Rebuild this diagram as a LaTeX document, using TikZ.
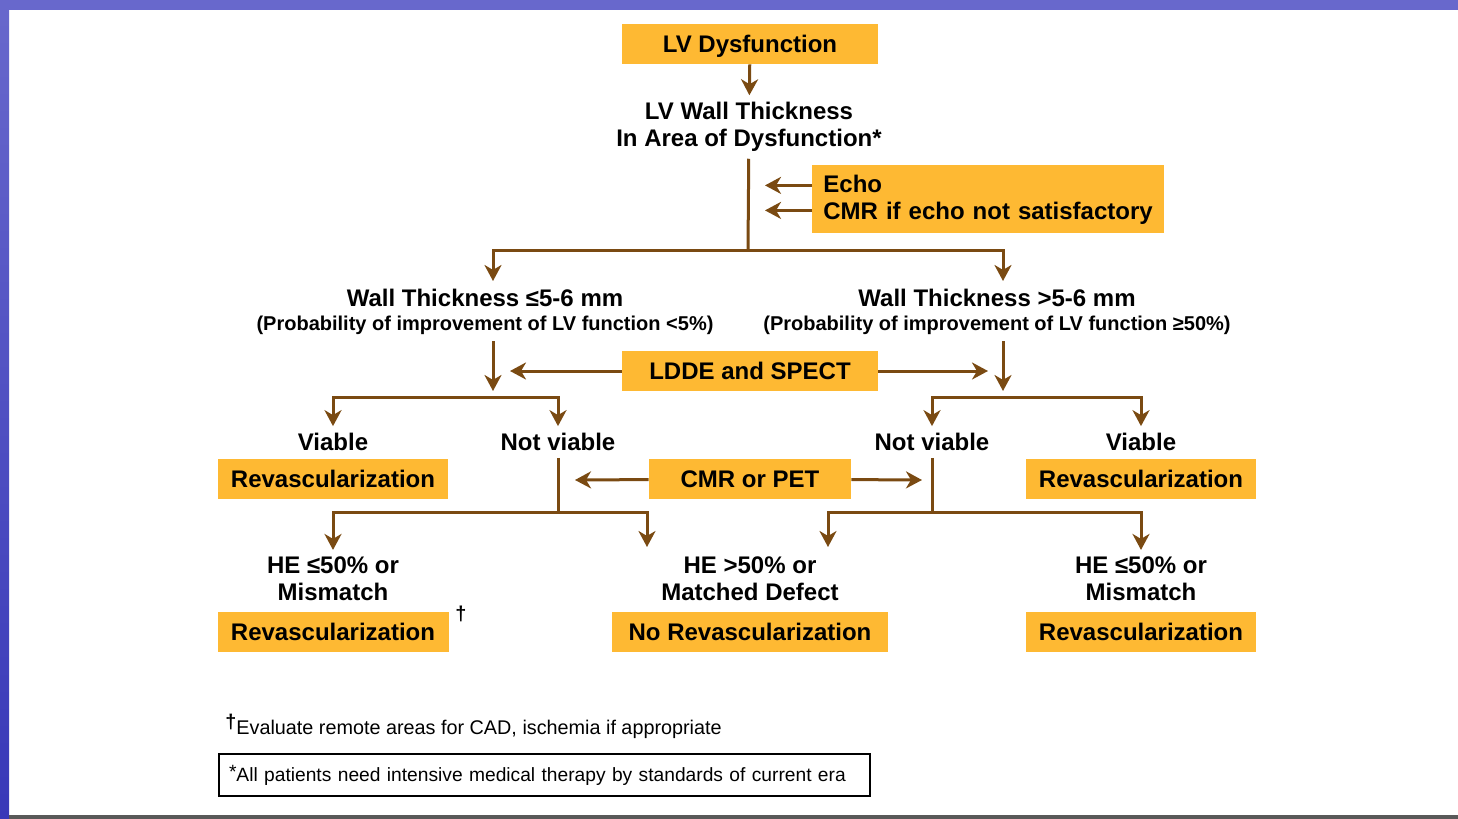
\documentclass[tikz,border=0pt]{standalone}
\usepackage{fontspec}
\setmainfont{Liberation Sans}
\usetikzlibrary{arrows.meta,positioning}
\definecolor{boxorange}{RGB}{254,185,51}
\definecolor{arrowbrown}{RGB}{122,74,18}
\definecolor{slideblue}{RGB}{104,104,204}
\definecolor{slidedark}{RGB}{56,56,184}

\begin{document}
\begin{tikzpicture}[x=0.5pt,y=-0.5pt,
    box/.style={fill=boxorange, font=\fontsize{12}{13.5}\selectfont\bfseries, minimum height=20pt, inner sep=0pt, text height=8.8pt, text depth=0pt},
    txt/.style={font=\fontsize{12}{13.5}\selectfont\bfseries, align=center},
    probtxt/.style={font=\fontsize{10}{11}\selectfont\bfseries},
    notetxt/.style={font=\fontsize{9.9}{11}\selectfont},
    link/.style={draw=arrowbrown, line width=1.5pt},
    arr/.style={link, -{Stealth[length=8pt,width=8.5pt,inset=2.5pt]}}]
    \useasboundingbox (0,0) rectangle (1458,819);
    % slide frame
    \fill[white] (0,0) rectangle (1458,819);
    \shade[top color=slideblue, bottom color=slidedark] (0,0) rectangle (9,819);
    \fill[slideblue] (0,0) rectangle (1458,10);
    \fill[black!65] (9,815) rectangle (1458,819);

    % nodes
    \node[box, minimum width=128pt] at (750,44) (dys) {LV Dysfunction};
    \node[txt] at (749,127) (wall) {LV Wall Thickness\\In Area of Dysfunction*};
    \node[box, anchor=north west, text width=165pt, inner xsep=5.5pt, minimum height=34pt, align=left, text height=, text depth=] at (812,165) (echo) {Echo\\CMR if echo not satisfactory};
    \node[txt] at (485,298) (thinL) {Wall Thickness ≤5-6 mm};
    \node[probtxt] at (485,325) (probL) {(Probability of improvement of LV function <5\%)};
    \node[txt] at (997,298) (thinR) {Wall Thickness >5-6 mm};
    \node[probtxt] at (997,325) (probR) {(Probability of improvement of LV function ≥50\%)};
    \node[box, minimum width=128pt] at (750,371) (ldde) {LDDE and SPECT};
    \node[txt] at (333,442) (viaL) {Viable};
    \node[txt] at (558,442) (nvL) {Not viable};
    \node[txt] at (932,442) (nvR) {Not viable};
    \node[txt] at (1141,442) (viaR) {Viable};
    \node[box, minimum width=115pt] at (333,479) (revL) {Revascularization};
    \node[box, minimum width=101pt] at (750,479) (cmr) {CMR or PET};
    \node[box, minimum width=115pt] at (1141,479) (revR) {Revascularization};
    \node[txt] at (333,579) (heL) {HE ≤50\% or\\Mismatch};
    \node[txt] at (750,579) (heM) {HE >50\% or\\Matched Defect};
    \node[txt] at (1141,579) (heR) {HE ≤50\% or\\Mismatch};
    \node[box, minimum width=115.5pt] at (333,631.5) (revLL) {Revascularization};
    \node[box, minimum width=138pt] at (750,631.5) (norev) {No Revascularization};
    \node[box, minimum width=115pt] at (1141,631.5) (revRR) {Revascularization};
    \node[anchor=south west, inner sep=0pt, font=\fontsize{10}{11}\selectfont\bfseries] at (455,622) (dag) {†};
    \node[notetxt, anchor=base west, inner sep=0pt] at (225,734) (note1) {\raisebox{3pt}{\bfseries †}Evaluate remote areas for CAD, ischemia if appropriate};
    \node[notetxt, font=\fontsize{9.6}{11}\selectfont, draw=black, line width=1pt, anchor=west, minimum height=21pt, inner ysep=0pt, inner xsep=5pt, text width=315.5pt, align=left] at (218,775) (note2) {\mbox{\raisebox{1.5pt}{*}All patients need intensive medical therapy by standards of current era}};

    % connector points
    \coordinate (fork) at (748,250);
    \coordinate (tipL) at (493,281);
    \coordinate (tipR) at (1003,281);
    \coordinate (jL) at (493,391);
    \coordinate (jR) at (1003,391);
    \coordinate (inL) at (510,371);
    \coordinate (inR) at (988,371);
    \coordinate (brL) at (493,397);
    \coordinate (brR) at (1003,397);
    \coordinate (inLL) at (575,480);
    \coordinate (inRR) at (922,480);
    \coordinate (fkL) at (558,512);
    \coordinate (fkR) at (932,512);
    \coordinate (tipM) at (647,547);
    \coordinate (tipN) at (828,547);

    % connectors
    \draw[arr] (dys) -- (wall);
    \draw[link] (wall) -- (fork);
    \draw[arr] (fork) -| (tipL);
    \draw[arr] (fork) -| (tipR);
    \draw[arr] ([yshift=7pt]echo.west) -- ++(-47,0);
    \draw[arr] ([yshift=-5.5pt]echo.west) -- ++(-47,0);
    \draw[arr] (probL.south -| jL) -- (jL);
    \draw[arr] (probR.south -| jR) -- (jR);
    \draw[arr] (ldde) -- (inL);
    \draw[arr] (ldde) -- (inR);
    \draw[arr] (brL) -| (viaL);
    \draw[arr] (brL) -| (nvL);
    \draw[arr] (brR) -| (nvR);
    \draw[arr] (brR) -| (viaR);
    \draw[arr] (cmr) -- (inLL);
    \draw[arr] (cmr) -- (inRR);
    \draw[link] (nvL) -- (fkL);
    \draw[link] (nvR) -- (fkR);
    \draw[arr] (fkL) -| (heL);
    \draw[arr] (fkL) -| (tipM);
    \draw[arr] (fkR) -| (tipN);
    \draw[arr] (fkR) -| (heR);
\end{tikzpicture}
\end{document}
